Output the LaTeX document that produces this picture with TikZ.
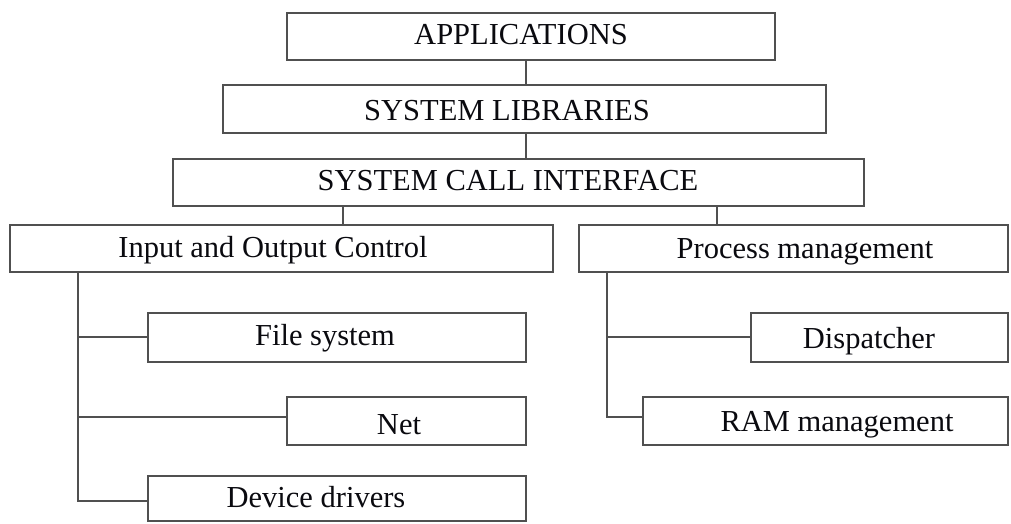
\documentclass[tikz,border=0pt]{standalone}
\usepackage{fontspec}
\setmainfont{Liberation Serif}
\definecolor{edge}{RGB}{80,80,80}
\definecolor{ink}{RGB}{10,10,15}
\begin{document}
\begin{tikzpicture}[x=1pt,y=-1pt,
  box/.style={draw=edge,line width=1.6pt,fill=white,inner sep=0pt},
  lbl/.style={anchor=base,text=ink,inner sep=0pt,font=\fontsize{30.5}{36}\selectfont},
  wire/.style={draw=edge,line width=1.5pt}]
\useasboundingbox (0,0) rectangle (1011,523);

% boxes: corner to corner
\newcommand{\layerbox}[5]{%
  \node[box,minimum width={#4-#2},minimum height={#5-#3}] (#1) at ({(#2+#4)/2},{(#3+#5)/2}) {};}
\layerbox{app}{287}{13}{775}{60}
\layerbox{lib}{223}{85}{826}{133}
\layerbox{sci}{173}{159}{864}{206}
\layerbox{io}{10}{225}{553}{272}
\layerbox{pm}{579}{225}{1008}{272}
\layerbox{fs}{148}{313}{526}{362}
\layerbox{net}{287}{397}{526}{445}
\layerbox{dev}{148}{476}{526}{521}
\layerbox{disp}{751}{313}{1008}{362}
\layerbox{ram}{643}{397}{1008}{445}

% labels
\node[lbl] (app-t)  at (521,44)  {APPLICATIONS};
\node[lbl] (lib-t)  at (507,120) {SYSTEM LIBRARIES};
\node[lbl] (sci-t)  at (508,190) {SYSTEM CALL INTERFACE};
\node[lbl] (io-t)   at (273,257) {Input and Output Control};
\node[lbl] (pm-t)   at (805,258) {Process management};
\node[lbl] (fs-t)   at (325,345) {File system};
\node[lbl] (net-t)  at (399,434) {Net};
\node[lbl] (dev-t)  at (316,507) {Device drivers};
\node[lbl] (disp-t) at (869,348) {Dispatcher};
\node[lbl] (ram-t)  at (837,431) {RAM management};

% connector columns
\coordinate (stack) at (526,0);
\coordinate (left)  at (343,0);
\coordinate (right) at (717,0);
\coordinate (iotrunk) at (78,0);
\coordinate (pmtrunk) at (607,0);

% entry points on the left sides of the sub-boxes
\coordinate (fsin)   at ([yshift=0.5pt]fs.west);
\coordinate (netin)  at ([yshift=4pt]net.west);
\coordinate (devin)  at ([yshift=-2.5pt]dev.west);
\coordinate (dispin) at ([yshift=0.5pt]disp.west);
\coordinate (ramin)  at ([yshift=4pt]ram.west);

% vertical stack
\draw[wire] (app.south -| stack) -- (lib.north -| stack);
\draw[wire] (lib.south -| stack) -- (sci.north -| stack);
\draw[wire] (sci.south -| left)  -- (io.north -| left);
\draw[wire] (sci.south -| right) -- (pm.north -| right);

% input/output subtree
\draw[wire] (io.south -| iotrunk) |- (devin);
\draw[wire] (iotrunk |- fsin) -- (fsin);
\draw[wire] (iotrunk |- netin) -- (netin);

% process subtree
\draw[wire] (pm.south -| pmtrunk) |- (ramin);
\draw[wire] (pmtrunk |- dispin) -- (dispin);
\end{tikzpicture}
\end{document}
